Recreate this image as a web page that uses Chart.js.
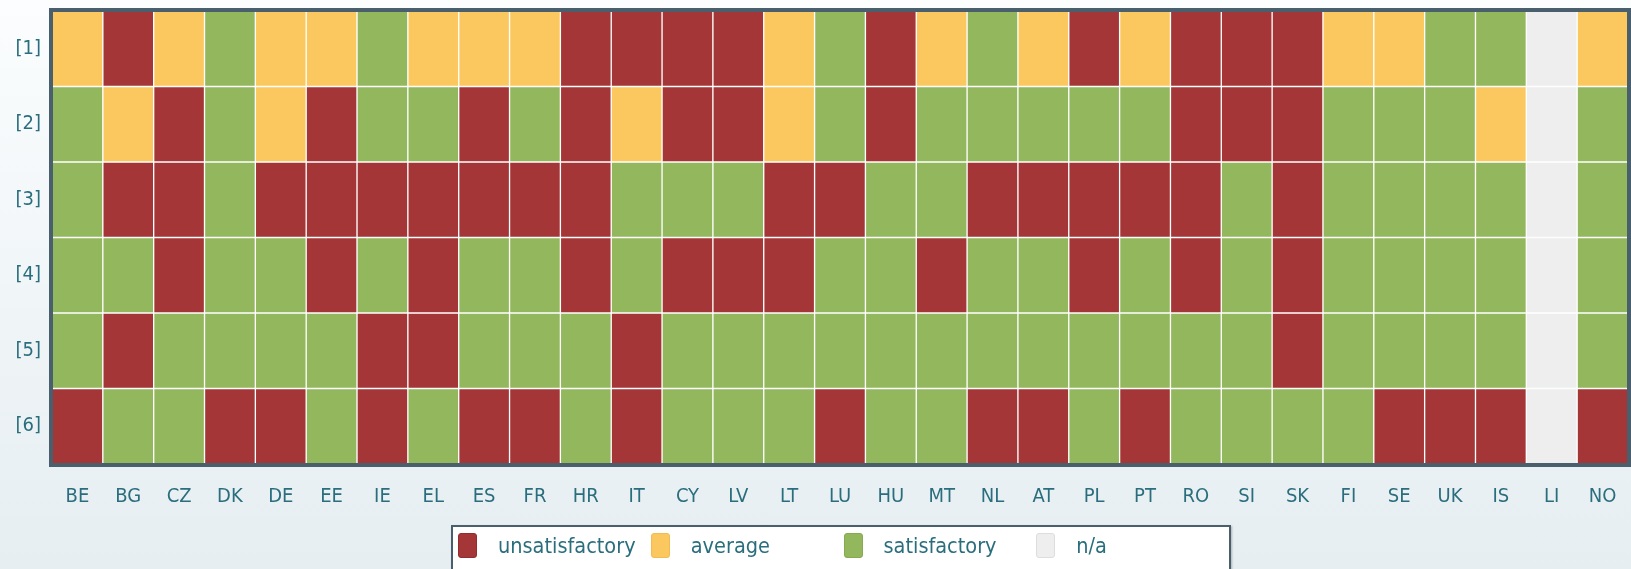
<!DOCTYPE html>
<html>
<head>
<meta charset="utf-8">
<script src="https://cdn.jsdelivr.net/npm/chart.js@4.4.1/dist/chart.umd.min.js"></script>
<style>
    html, body { margin: 0; padding: 0; }
    body {
        width: 1631px;
        height: 569px;
        overflow: hidden;
        position: relative;
        background: linear-gradient(#fbfdfe, #e6eef1);
        font-family: 'DejaVu Sans Condensed', 'Liberation Sans Narrow', 'DejaVu Sans', sans-serif;
    }
    #chart-wrap { position: absolute; left: 0; top: 0; width: 1631px; height: 569px; }
    #legend {
        position: absolute;
        left: 451px;
        top: 525px;
        width: 780px;
        height: 60px;
        border: 2px solid #4a5f6e;
        background: #fff;
        box-shadow: 1px 1px 2px rgba(0, 0, 0, 0.25);
        display: flex;
        padding-left: 5px;
        box-sizing: border-box;
    }
    .legend-item {
        width: 195px;
        height: 36px;
        display: flex;
        align-items: center;
        font-size: 21.5px;
        color: #2a6e7d;
    }
    .legend-swatch {
        width: 19px;
        height: 25px;
        border-radius: 3px;
        margin-right: 21px;
        box-sizing: border-box;
    }
</style>
</head>
<body>
<div id="chart-wrap"><canvas id="grid-chart" width="1631" height="569"></canvas></div>
<div id="legend"></div>
<script>
// --- Data ---
const countries = ['BE', 'BG', 'CZ', 'DK', 'DE', 'EE', 'IE', 'EL', 'ES', 'FR', 'HR', 'IT', 'CY', 'LV', 'LT', 'LU',
    'HU', 'MT', 'NL', 'AT', 'PL', 'PT', 'RO', 'SI', 'SK', 'FI', 'SE', 'UK', 'IS', 'LI', 'NO'];
const rowLabels = ['[1]', '[2]', '[3]', '[4]', '[5]', '[6]'];

// u = unsatisfactory, a = average, s = satisfactory, n = n/a
const row1 = ['a', 'u', 'a', 's', 'a', 'a', 's', 'a', 'a', 'a', 'u', 'u', 'u', 'u', 'a', 's',
    'u', 'a', 's', 'a', 'u', 'a', 'u', 'u', 'u', 'a', 'a', 's', 's', 'n', 'a'];
const row2 = ['s', 'a', 'u', 's', 'a', 'u', 's', 's', 'u', 's', 'u', 'a', 'u', 'u', 'a', 's',
    'u', 's', 's', 's', 's', 's', 'u', 'u', 'u', 's', 's', 's', 'a', 'n', 's'];
const row3 = ['s', 'u', 'u', 's', 'u', 'u', 'u', 'u', 'u', 'u', 'u', 's', 's', 's', 'u', 'u',
    's', 's', 'u', 'u', 'u', 'u', 'u', 's', 'u', 's', 's', 's', 's', 'n', 's'];
const row4 = ['s', 's', 'u', 's', 's', 'u', 's', 'u', 's', 's', 'u', 's', 'u', 'u', 'u', 's',
    's', 'u', 's', 's', 'u', 's', 'u', 's', 'u', 's', 's', 's', 's', 'n', 's'];
const row5 = ['s', 'u', 's', 's', 's', 's', 'u', 'u', 's', 's', 's', 'u', 's', 's', 's', 's',
    's', 's', 's', 's', 's', 's', 's', 's', 'u', 's', 's', 's', 's', 'n', 's'];
const row6 = ['u', 's', 's', 'u', 'u', 's', 'u', 's', 'u', 'u', 's', 'u', 's', 's', 's', 'u',
    's', 's', 'u', 'u', 's', 'u', 's', 's', 's', 's', 'u', 'u', 'u', 'n', 'u'];
const rows = [row1, row2, row3, row4, row5, row6];

const ratingKeys = ['u', 'a', 's', 'n'];
const ratingNames = ['unsatisfactory', 'average', 'satisfactory', 'n/a'];
const ratingColors = ['#a43637', '#fbc85f', '#93b75c', '#eeeeee'];
const ratingBorders = ['#922c2d', '#f0bb52', '#86aa50', '#dddddd'];

const FONT = "'DejaVu Sans Condensed', 'Liberation Sans Narrow', 'DejaVu Sans', sans-serif";
const TEXT_COLOR = '#2a6e7d';
const FRAME_COLOR = '#4a5f6e';

function colorFor(code) {
    return ratingColors[ratingKeys.indexOf(code)];
}

// Each row is one stacked dataset, one unit high per cell
const datasets = rows.map((row, i) => ({
    label: rowLabels[i],
    data: row.map(() => 1),
    backgroundColor: row.map(colorFor),
    borderColor: '#ffffff',
    borderWidth: 1,
    borderSkipped: false,
    categoryPercentage: 1,
    barPercentage: 1
}));

// dark frame round the plot area
const framePlugin = {
    id: 'frame',
    afterDatasetsDraw(chart) {
        const { ctx, chartArea } = chart;
        ctx.save();
        ctx.strokeStyle = FRAME_COLOR;
        ctx.lineWidth = 4;
        ctx.strokeRect(chartArea.left - 1, chartArea.top - 1,
            chartArea.right - chartArea.left + 2, chartArea.bottom - chartArea.top + 2);
        ctx.restore();
    }
};

new Chart(document.getElementById('grid-chart'), {
    type: 'bar',
    data: { labels: countries, datasets: datasets },
    plugins: [framePlugin],
    options: {
        responsive: false,
        animation: false,
        layout: { padding: { top: 11, right: 3, left: 0, bottom: 0 } },
        plugins: {
            legend: { display: false },
            tooltip: { enabled: false }
        },
        scales: {
            x: {
                stacked: true,
                grid: { display: false, drawTicks: false },
                border: { display: false },
                ticks: {
                    color: TEXT_COLOR,
                    font: { family: FONT, size: 20 },
                    padding: 21,
                    autoSkip: false,
                    maxRotation: 0
                },
                afterFit: (scale) => {
                    scale.height = 105;
                    scale.paddingLeft = 0;
                    scale.paddingRight = 0;
                }
            },
            y: {
                stacked: true,
                reverse: true,
                min: 0,
                max: rows.length,
                grid: { display: false, drawTicks: false },
                border: { display: false },
                afterBuildTicks: (scale) => {
                    scale.ticks = rowLabels.map((_, i) => ({ value: i + 0.5 }));
                },
                ticks: {
                    color: TEXT_COLOR,
                    font: { family: FONT, size: 20 },
                    padding: 11,
                    autoSkip: false,
                    callback: (value, index) => rowLabels[index]
                },
                afterFit: (scale) => {
                    scale.width = 52;
                    scale.paddingTop = 0;
                    scale.paddingBottom = 0;
                }
            }
        }
    }
});

// --- Legend ---
const legendEl = document.getElementById('legend');
ratingNames.forEach((name, i) => {
    const item = document.createElement('div');
    item.className = 'legend-item';
    item.innerHTML = `<span class="legend-swatch" style="background:${ratingColors[i]};border:1px solid ${ratingBorders[i]}"></span><span>${name}</span>`;
    legendEl.appendChild(item);
});
</script>
</body>
</html>
